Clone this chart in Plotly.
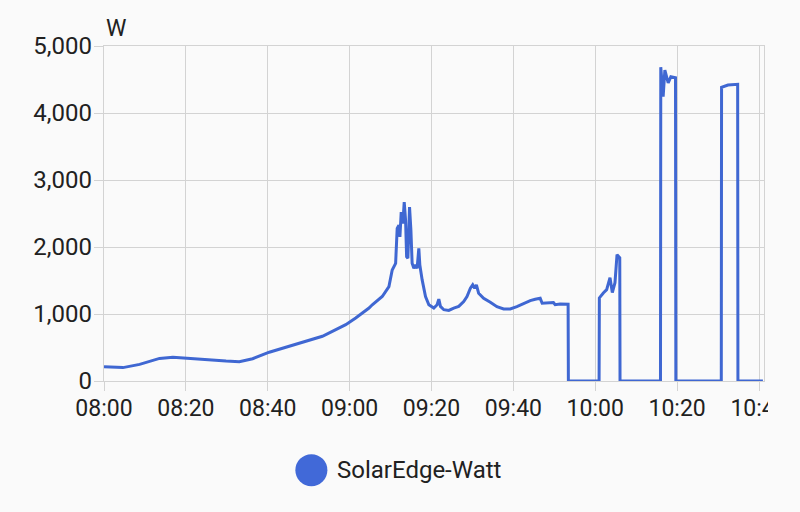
import plotly.graph_objects as go

DAY = "2024-05-12"

times = [
    "08:00:00", "08:04:38", "08:08:42", "08:13:34", "08:16:49", "08:20:04",
    "08:24:57", "08:29:49", "08:33:03", "08:36:18", "08:40:22", "08:45:14",
    "08:53:21", "08:59:03", "09:01:29", "09:04:44", "09:05:32", "09:07:58",
    "09:09:36", "09:10:24", "09:11:14", "09:11:37", "09:12:02", "09:12:17",
    "09:12:36", "09:13:00", "09:13:20", "09:13:40", "09:13:55", "09:14:14",
    "09:14:38", "09:14:58", "09:15:16", "09:15:41", "09:16:06", "09:16:29",
    "09:16:54", "09:17:09", "09:17:43", "09:18:32", "09:19:21", "09:20:34",
    "09:21:22", "09:21:47", "09:22:11", "09:23:00", "09:24:13", "09:25:26",
    "09:26:39", "09:27:52", "09:28:40", "09:29:30", "09:30:04", "09:30:33",
    "09:30:58", "09:31:31", "09:32:44", "09:34:22", "09:35:59", "09:37:37",
    "09:39:14", "09:40:51", "09:42:29", "09:44:07", "09:45:20", "09:46:33",
    "09:47:02", "09:48:34", "09:49:47", "09:50:12", "09:51:25", "09:53:22",
    "09:53:26", "10:00:56", "10:01:00", "10:01:58", "10:02:47", "10:03:36",
    "10:04:10", "10:04:49", "10:05:19", "10:05:59", "10:06:03", "10:15:56",
    "10:16:00", "10:16:35", "10:17:00", "10:17:49", "10:18:28", "10:19:36",
    "10:19:41", "10:30:47", "10:30:51", "10:32:25", "10:34:47", "10:34:51",
    "10:40:57",
]

watts = [
    214, 200, 248, 337, 353, 337,
    322, 297, 288, 332, 430, 519,
    668, 841, 941, 1089, 1138, 1261,
    1409, 1657, 1756, 2276, 2325, 2151,
    2522, 2349, 2671, 2399, 1855, 1831,
    2596, 2251, 1757, 1682, 1731, 1682,
    1979, 1731, 1509, 1261, 1138, 1089,
    1138, 1222, 1113, 1064, 1053, 1089,
    1113, 1187, 1261, 1386, 1435, 1386,
    1435, 1309, 1234, 1175, 1110, 1076,
    1076, 1110, 1160, 1199, 1220, 1234,
    1160, 1160, 1170, 1138, 1150, 1145,
    0, 0, 1240, 1314, 1364, 1542,
    1320, 1468, 1885, 1840, 0, 0,
    4683, 4244, 4640, 4448, 4542, 4527,
    0, 0, 4384, 4418, 4428, 0,
    0,
]

series_name = "SolarEdge-Watt"
unit_label = "W"
y_ticks = [0, 1000, 2000, 3000, 4000, 5000]
x_start = "08:00:00"
x_end = "10:41:13"

LINE = "#3f67d2"
GRID = "#d3d3d3"
TEXT = "#212121"
BG = "#fafafa"
FONT = "Roboto"

x_vals = [f"{DAY} {t}" for t in times]

fig = go.Figure()
fig.add_trace(go.Scatter(
    x=x_vals, y=watts, mode="lines", name=series_name,
    line=dict(color=LINE, width=3), showlegend=False,
))

fig.update_layout(
    width=800, height=512,
    margin=dict(l=104, r=34, t=46, b=131),
    paper_bgcolor=BG, plot_bgcolor=BG,
    font=dict(family=FONT, size=24, color=TEXT),
    xaxis=dict(
        type="date",
        range=[f"{DAY} {x_start}", f"{DAY} {x_end}"],
        tick0=f"{DAY} 08:00:00", dtick=20 * 60 * 1000,
        tickformat="%H:%M",
        showgrid=True, gridcolor=GRID, gridwidth=1.4,
        ticks="outside", ticklen=9, tickcolor=GRID, tickwidth=1.4,
        ticklabelstandoff=-3,
        showline=True, linecolor=GRID, linewidth=1.4, mirror=True,
        zeroline=False,
        tickfont=dict(size=23, color=TEXT),
    ),
    yaxis=dict(
        range=[0, 5000],
        tickvals=y_ticks,
        tickformat=",d",
        showgrid=True, gridcolor=GRID, gridwidth=1.4,
        ticks="outside", ticklen=9, tickcolor=GRID, tickwidth=1.4,
        ticklabelstandoff=-3,
        showline=True, linecolor=GRID, linewidth=1.4, mirror=True,
        zeroline=False,
        tickfont=dict(size=24, color=TEXT),
    ),
)

# axis unit label
fig.add_annotation(
    text=unit_label, xref="paper", yref="paper", x=0, y=1,
    xanchor="left", yanchor="bottom", yshift=2, xshift=0,
    showarrow=False, font=dict(size=23, color=TEXT),
)

# the chart container clips the last tick label at ~770px
fig.add_shape(
    type="rect", xref="paper", yref="paper", layer="above",
    x0=(770 - 104) / 662, x1=(800 - 104) / 662,
    y0=(381.5 - 430) / 335.5, y1=(381.5 - 392) / 335.5,
    fillcolor=BG, line=dict(width=0),
)

# custom legend: circle + label
fig.add_shape(
    type="circle", xref="paper", yref="paper",
    xsizemode="pixel", ysizemode="pixel",
    xanchor=(312 - 104) / 662, yanchor=(381.5 - 470.8) / 335.5,
    x0=-16, x1=16, y0=-16, y1=16,
    fillcolor="#4169d8", line=dict(width=0),
)
fig.add_annotation(
    text=series_name, xref="paper", yref="paper",
    x=(336 - 104) / 662, y=(381.5 - 470.8) / 335.5,
    xanchor="left", yanchor="middle", showarrow=False,
    font=dict(size=24, color=TEXT),
)

fig.write_html(
    "out.html",
    config={"displayModeBar": False},
    post_script="document.body.style.margin='0';",
)
